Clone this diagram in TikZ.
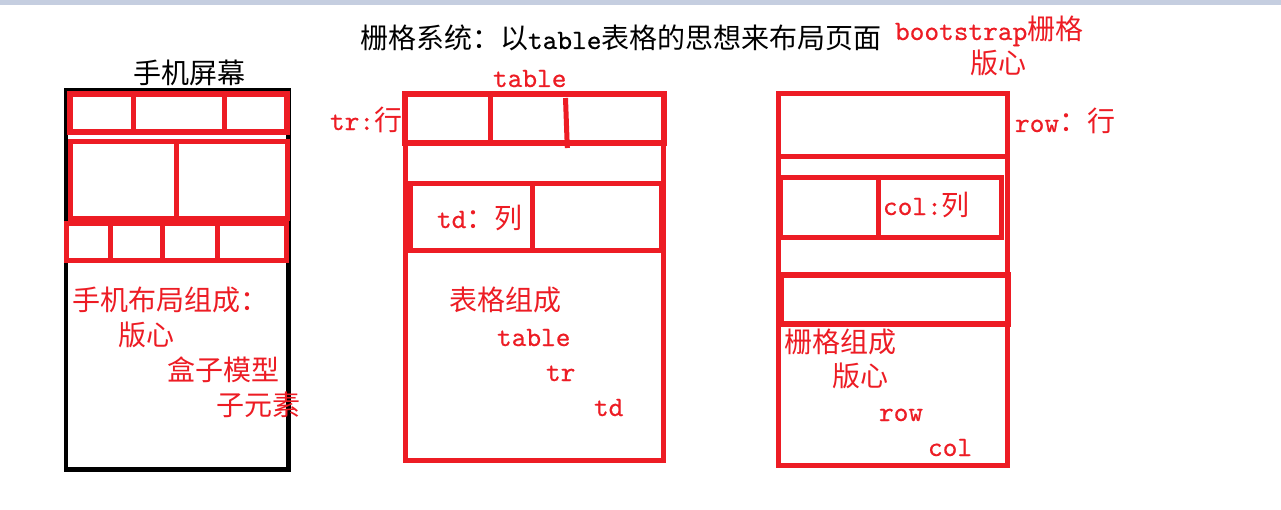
\documentclass[tikz,border=0pt]{standalone}
\usepackage{fontspec}
\setmainfont{Noto Sans CJK SC}
\setmonofont{lmmono10-regular.otf}[FakeBold=0.5]
\definecolor{pred}{HTML}{ED1C24}
\definecolor{topbar}{HTML}{C5CEE0}
\newcommand{\myfs}{\fontsize{21pt}{25pt}\selectfont}
\tikzset{
  redline/.style={draw=pred, line width=3.75pt},
  thickred/.style={draw=pred, line width=4.5pt},
  blackline/.style={draw=black, line width=3.4pt},
  lbl/.style={anchor=base west, inner sep=0pt, outer sep=0pt, font=\myfs, text=pred},
  blk/.style={anchor=base west, inner sep=0pt, outer sep=0pt, font=\myfs, text=black}
}
\begin{document}
\begin{tikzpicture}[x=0.75pt, y=-0.75pt]
\useasboundingbox (0,0) rectangle (1281,510);
\fill[white] (0,0) rectangle (1281,510);
\fill[topbar] (0,0) rectangle (1281,5);

% ---------- title ----------
\node[blk] (title) at (360,49) {栅格系统：以\texttt{table}表格的思想来布局页面};

% ---------- phone ----------
\node[blk] (phonetitle) at (133,84) {手机屏幕};
\draw[blackline] (66,90) rectangle (288.5,469.5);
\draw[thickred] (70,94.5) rectangle (287,132);
\draw[redline] (133.5,94.5) -- (133.5,132);
\draw[redline] (224,94.5) -- (224,132);
\draw[redline] (70.5,141) rectangle (287.5,218);
\draw[redline] (176.5,141) -- (176.5,218);
\draw[redline] (66.5,223) rectangle (286.5,260);
\draw[redline] (110.5,223) -- (110.5,260);
\draw[redline] (162.5,223) -- (162.5,263);
\draw[redline] (217.5,223) -- (217.5,260);
\node[lbl] (p1) at (72,310) {手机布局组成：};
\node[lbl] (p2) at (118,345) {版心};
\node[lbl] (p3) at (167,380) {盒子模型};
\node[lbl] (p4) at (216,415) {子元素};

% ---------- table ----------
\node[lbl] (tablelbl) at (493,87) {\texttt{table}};
\node[lbl] (trlbl) at (330,130) {\texttt{tr:}行};
\draw[redline] (405,93.7) rectangle (663.5,460.5);
\draw[thickred] (405,94) rectangle (663.5,143);
\draw[redline] (490.5,94) -- (490.5,146);
\draw[redline] (565.5,98) -- (567.3,148);
\draw[redline] (410,183.5) rectangle (661,250.5);
\draw[redline] (532,183.5) -- (532,250.5);
\node[lbl] (tdlbl) at (437,228) {\texttt{td}：列};
\node[lbl] (t1) at (449,310) {表格组成};
\node[lbl] (t2) at (497,346) {\texttt{table}};
\node[lbl] (t3) at (546,381) {\texttt{tr}};
\node[lbl] (t4) at (594,416) {\texttt{td}};

% ---------- grid ----------
\node[lbl] (bs) at (895,40) {\texttt{bootstrap}栅格};
\node[lbl] (bs2) at (970,74) {版心};
\draw[redline] (778,93.5) rectangle (1007.5,465.5);
\draw[redline] (778,156) -- (1007.5,156);
\draw[redline] (780,177.5) rectangle (1001.5,237);
\draw[redline] (878.5,177.5) -- (878.5,237);
\draw[thickred] (781,274.5) rectangle (1008,324);
\node[lbl] (rowlbl) at (1015,132) {\texttt{row}：行};
\node[lbl] (collbl) at (883,215) {\texttt{col:}列};
\node[lbl] (g1) at (784,352) {栅格组成};
\node[lbl] (g2) at (832,386) {版心};
\node[lbl] (g3) at (879,421) {\texttt{row}};
\node[lbl] (g4) at (928,456) {\texttt{col}};
\end{tikzpicture}
\end{document}
